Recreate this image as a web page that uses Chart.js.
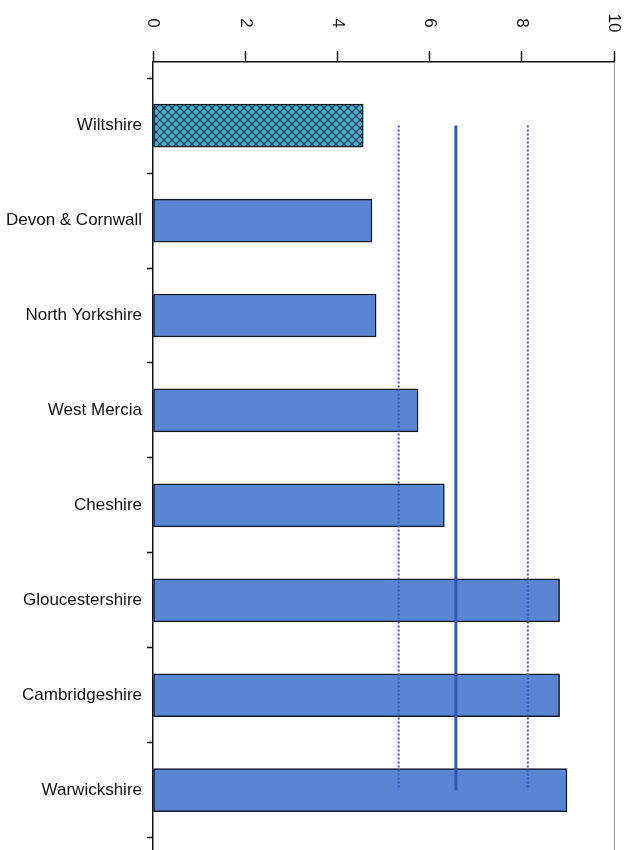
<!DOCTYPE html>
<html>
<head>
<meta charset="utf-8">
<script src="https://cdn.jsdelivr.net/npm/chart.js@4/dist/chart.umd.min.js"></script>
<style>
html,body{margin:0;padding:0;background:#fff;}
#c{display:block;}
</style>
</head>
<body>
<canvas id="c" width="634" height="850"></canvas>
<script>
// ---- data ----
const categories = ["Wiltshire","Devon & Cornwall","North Yorkshire","West Mercia","Cheshire","Gloucestershire","Cambridgeshire","Warwickshire"];
const values = [4.56, 4.75, 4.84, 5.75, 6.32, 8.82, 8.82, 8.98];
const lowerBand = 5.33;
const average = 6.57;
const upperBand = 8.13;
const xTicks = [0, 2, 4, 6, 8, 10];

// crosshatch pattern for highlighted bar
function makePattern() {
  const p = document.createElement('canvas');
  p.width = 8; p.height = 8;
  const g = p.getContext('2d');
  g.fillStyle = '#45b0c2';
  g.fillRect(0, 0, 8, 8);
  g.strokeStyle = '#1c2f5a';
  g.lineWidth = 1.1;
  g.beginPath();
  g.moveTo(0, 0); g.lineTo(8, 8);
  g.moveTo(8, 0); g.lineTo(0, 8);
  g.stroke();
  return g.createPattern(p, 'repeat');
}
const hatch = makePattern();

const barData = values.map((v, i) => ({x: v, y: i}));
const lastIdx = categories.length - 1;
function vline(v) { return [{x: v, y: 0}, {x: v, y: lastIdx}]; }

const halfTicks = [];
for (let i = -0.5; i <= lastIdx + 0.5; i += 0.5) halfTicks.push(i);

const xLabelPlugin = {
  id: 'xLabels',
  afterDraw(chart) {
    const sx = chart.scales.x;
    const ctx = chart.ctx;
    ctx.save();
    ctx.font = '17px "Liberation Sans", Arial, sans-serif';
    ctx.fillStyle = '#111';
    ctx.textAlign = 'center';
    ctx.textBaseline = 'middle';
    xTicks.forEach(t => {
      const px = sx.getPixelForValue(t);
      ctx.save();
      ctx.translate(px, sx.bottom - 39);
      ctx.rotate(Math.PI / 2);
      ctx.fillText(String(t), 0, 0);
      ctx.restore();
    });
    ctx.restore();
  }
};

new Chart(document.getElementById('c'), {
  type: 'bar',
  data: {
    datasets: [
      {
        type: 'line', data: vline(average), borderColor: '#3458b8', borderWidth: 3,
        pointRadius: 0, order: 0, fill: false
      },
      {
        type: 'line', data: vline(lowerBand), borderColor: '#3a5cc4', borderWidth: 2,
        borderDash: [2, 2], pointRadius: 0, order: 0, fill: false
      },
      {
        type: 'line', data: vline(upperBand), borderColor: '#3a5cc4', borderWidth: 2,
        borderDash: [2, 2], pointRadius: 0, order: 0, fill: false
      },
      {
        type: 'bar', data: barData,
        backgroundColor: values.map((v, i) => i === 0 ? hatch : '#5a85d3'),
        borderColor: '#151a28', borderWidth: 1.5, borderSkipped: false,
        barThickness: 43, order: 1
      }
    ]
  },
  options: {
    indexAxis: 'y',
    responsive: false,
    animation: false,
    events: [],
    layout: {padding: {left: 0, right: 20, top: 0, bottom: 0}},
    plugins: {legend: {display: false}, tooltip: {enabled: false}},
    scales: {
      x: {
        type: 'linear', position: 'top', min: 0, max: 10, offset: false,
        afterBuildTicks: s => { s.ticks = xTicks.map(v => ({value: v})); },
        afterFit: s => { s.height = 62; s.paddingLeft = 0; s.paddingRight = 0; },
        ticks: {display: false},
        grid: {
          offset: false,
          drawOnChartArea: true,
          color: c => (c.tick && c.tick.value === 10) ? '#9a9a9a' : 'rgba(0,0,0,0)',
          lineWidth: 1,
          tickColor: '#111', tickLength: 11, tickWidth: 1.5
        },
        border: {display: true, color: '#111', width: 1.5}
      },
      y: {
        type: 'linear', reverse: true, min: -0.67, max: 7.63, offset: false,
        afterBuildTicks: s => { s.ticks = halfTicks.map(v => ({value: v})); },
        afterFit: s => { s.width = 153; s.paddingTop = 0; s.paddingBottom = 0; },
        ticks: {
          autoSkip: false, padding: 5, color: '#111',
          font: {family: '"Liberation Sans", Arial, sans-serif', size: 17},
          callback: v => Number.isInteger(v) ? categories[v] : ''
        },
        grid: {
          offset: false,
          drawOnChartArea: false,
          tickColor: c => (c.tick && Number.isInteger(c.tick.value)) ? 'rgba(0,0,0,0)' : '#111',
          tickLength: 6, tickWidth: 1.5
        },
        border: {display: true, color: '#111', width: 1.5}
      }
    }
  },
  plugins: [xLabelPlugin]
});
</script>
</body>
</html>
